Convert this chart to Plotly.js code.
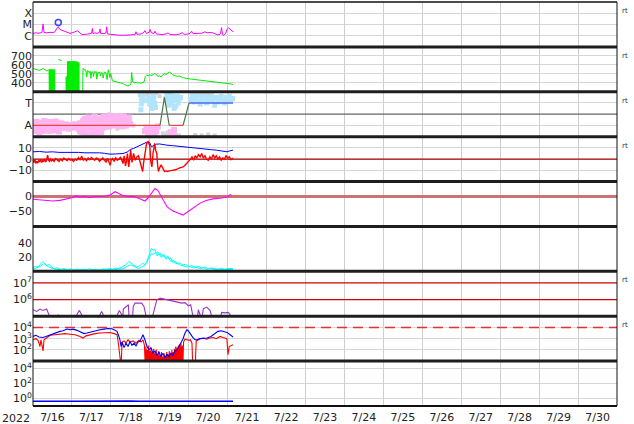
<!DOCTYPE html>
<html><head><meta charset="utf-8">
<script src="https://cdn.plot.ly/plotly-3.0.1.min.js"></script>
<style>html,body{margin:0;padding:0;background:#fff}#chart{width:634px;height:424px}</style>
</head><body><div id="chart"></div>
<script>
// ---- time axis (hours after 2022-07-16 00:00) ----
const xStart = '2022-07-16 00:00:00';
const xEnd = '2022-07-31 00:00:00';
const dayLabelFormat = '%-m/%-d';
const yearLabel = '2022';

// Panel 1: X-ray flux (log10 W/m2)
const xrayT = [0,1.8,3.7,5.5,6.2,6.8,8.6,10.5,12.3,13.6,14.5,15.1,15.6,16,17.3,18.5,19.7,21.6,22.8,24.7,26.2,27.4,29,30.2,32.7,35.1,36.1,36.6,37,38.2,39.5,41,41.3,41.7,43.8,45,45.4,45.9,48.7,52.4,56.1,59.8,62.9,63.5,64.1,66.6,68.4,69,69.9,71.6,72.1,73,74.6,75.2,76.1,79.5,82,83.2,84.5,88.2,90.6,91.9,93.1,95.6,96.8,97.8,98.6,101.7,104.2,106,107.3,109.1,111,113.3,114.7,115.6,116.2,116.8,117.7,118.7,119.6,120.5,121.5,122.7,123.3];
const xrayLog = [-5.8,-5.75,-5.78,-5.72,-4.97,-5.72,-5.75,-5.7,-5.73,-5.65,-5.4,-5.25,-5.2,-5.35,-5.5,-5.55,-5.62,-5.7,-5.8,-5.72,-5.6,-5.57,-5.75,-5.9,-5.88,-5.85,-5.8,-5.36,-5.82,-5.75,-5.8,-5.7,-5.4,-5.8,-5.82,-5.75,-5.21,-5.85,-5.92,-5.95,-5.97,-5.93,-5.9,-5.65,-5.88,-5.85,-5.7,-5.55,-5.8,-5.7,-5.45,-5.75,-5.8,-5.6,-5.85,-5.9,-5.85,-5.75,-5.9,-5.92,-5.85,-5.72,-5.88,-5.85,-5.8,-5.6,-5.82,-5.8,-5.78,-5.65,-5.75,-5.72,-5.75,-5.9,-5.92,-5.85,-5.28,-5.9,-5.98,-5.8,-5.45,-5.3,-5.4,-5.6,-5.65];
const flareT = [15.6];
const flareLog = [-4.82];

// Panel 2: solar wind speed (km/s); 250 = off-scale low, null = gap
const speedT = [0,1.2,2.5,3.7,4.9,6.2,7.4,8.6,9.5,9.9,10.1,10.3,10.5,10.8,11.0,11.3,11.5,11.8,12.0,12.3,12.5,12.8,13.0,13.3,13.5,14,
 15.6,16.6,17.7,18.5,
 20.3,20.5,20.8,21.0,21.3,21.5,21.8,22.0,22.3,22.5,22.8,23.0,23.3,23.5,23.8,24.0,24.3,24.5,24.8,25.0,25.3,25.5,25.8,26.0,26.3,26.5,26.8,27.0,27.3,27.5,27.8,28.0,28.3,28.5,29,
 30.6,30.8,31.4,31.9,32.3,32.8,33.1,33.6,34.2,34.6,35.3,35.7,36.2,37.0,37.3,37.9,38.5,39.0,39.3,40.1,40.6,41.2,41.5,42.3,42.9,43.2,44.0,44.6,44.9,45.7,46.1,46.4,47.0,47.3,47.9,48.5,49.0,50.5,52.0,53.5,54.5,55.5,56.5,57.5,58.5,59.5,60.0,60.4,60.8,61.5,62.5,63.5,64.5,65.5,66.5,67.5,68.5,69.2,70.0,71.0,72.0,73.0,74.0,75.0,76.0,77.0,78.0,79.0,80.0,81.0,82.0,83.0,84.0,85.0,86.0,87.0,88.0,89.0,90.0,91.0,92.0,93.0,94.0,95.0,96.0,98.0,100.0,102.0,104.0,106.0,108.0,110.0,112.0,114.0,116.0,118.0,120.0,122.0,123.3];
const speedV = [559,555,548,540,545,559,545,532,540,548,250,550,250,548,250,550,250,548,250,550,250,545,250,548,250,null,
 660,650,648,null,
 462,250,470,250,640,250,638,250,640,250,642,250,640,250,638,250,640,250,640,250,638,250,640,250,636,250,638,250,635,250,630,250,625,250,null,
 250,560,552,540,548,520,465,535,530,512,528,450,522,518,470,530,514,524,440,520,510,522,476,516,505,452,518,509,514,436,512,545,500,460,505,432,420,415,410,400,395,392,380,372,365,372,380,385,515,410,400,405,398,402,395,400,410,470,484,478,488,480,490,503,495,470,480,465,490,500,492,505,521,510,490,484,475,470,478,465,458,455,450,448,445,440,436,435,432,428,420,415,412,408,400,398,392,388,380,372];

// Panel 3: IMF sector (T = 1, A = -1)
const pinkT = [0,0,1,1,2,2,3,3,4,4,5,5,6,6,7,7,8,8,9,9,10,10,11,11,12,12,13,13,14,14,15,15,16,16,17,17,18,19,20,21,22,23,24,25,26,27,28,29,29,30,30,31,31,32,32,33,33,34,34,35,35,36,36,37,37,38,38,39,39,40,40,41,41,42,42,43,43,44,44,45,45,46,46,47,47,48,48,49,49,50,50,51,51,52,52,53,53,54,54,55,55,56,56,57,57,58,59,60,69,70,71,72,73,74,75,76,77,85,86,87];
const pinkV = [-0.8,-1.3,-1.1,-1.5,-0.7,-1.2,-0.9,-1.4,-1.0,-1.6,-0.75,-1.25,-0.9,-1.5,-1.1,-0.6,-0.8,-1.35,-1.2,-0.7,-0.95,-1.5,-0.7,-1.2,-1.0,-1.45,-0.85,-1.3,-1.15,-0.65,-0.9,-1.4,-1.05,-1.55,-0.8,-1.2,-1.0,-1.2,-0.9,-1.1,-1.3,-0.95,-1.05,-1.2,-0.9,-1.1,-1.3,-0.8,-1.5,-1.0,-1.6,-0.6,-1.3,-0.4,-1.7,-0.9,-1.9,-0.3,-1.2,-0.7,-1.8,-0.5,-1.4,-1.0,-1.95,-0.2,-1.5,-0.8,-1.8,-0.4,-1.1,-1.3,-0.6,-0.9,-1.6,-0.3,-1.2,-0.7,-0.2,-1.0,-0.5,-0.3,-0.8,-0.6,-1.1,-0.2,-0.9,-0.5,-1.0,-0.3,-0.8,-0.7,-0.15,-0.4,-1.0,-0.6,-0.25,-0.3,-0.9,-0.5,-1.1,-0.8,-0.2,-0.4,-1.0,-0.6,-0.3,-0.9,-1.5,-1.2,-1.7,-1.4,-1.6,-1.3,-1.8,-1.5,-1.1,-1.6,-1.8,-1.4];
const grayT = [44,45,46,47,48,50,52,54,56,58,60,62,66,67,68,70,72,74,76,78,80,81,82,83,84,86,88,90,98,100,102,104,106,108,110,100,104,108,112];
const grayV = [-0.2,-0.6,-1.2,0.0,-0.9,-0.4,-1.3,-0.1,-0.7,-1.1,-0.5,-1.0,1.7,1.9,1.6,1.8,1.9,1.7,1.9,1.6,-1.7,-1.9,-1.8,-1.6,-1.9,-1.7,-1.85,-1.9,1.8,1.9,1.7,1.85,1.9,1.75,1.85,-1.85,-1.9,-1.8,-1.9];
const lblueT = [66.5,66.8,67,67.2,70,71,72,72.5,73,73.5,74,74.5,75,75.5,82,82.5,83,83.5,84,84.5,85,85.5,86,86.5,87,87.5,88,88.5,89,89.5,90,91,97,98,99,100,101,102,103,104,105,106,107,108,109,110,111,112,113,114,115,116,117,118,119,120,121,122,123];
const lblueV = [0.4,0.9,1.3,1.7,1.2,1.5,0.9,1.4,0.5,0.7,1.2,1.55,1.0,0.6,1.4,1.8,1.1,0.8,1.5,1.2,1.9,0.9,1.3,1.6,0.5,1.4,0.7,1.2,1.6,1.0,1.3,1.5,1.3,1.6,1.1,1.4,1.7,1.2,0.9,1.5,1.3,1.6,1.0,1.4,1.2,1.7,1.3,0.8,1.5,1.1,1.4,1.6,1.2,1.0,1.5,1.3,1.6,1.2,1.4];
const sectorAwayT = [0,78.3,null,84,92.5];
const sectorAwayV = [-1,-1,null,-1,-1];
const sectorSwitchT = [78.3,81,84,null,92.5,96.2];
const sectorSwitchV = [-1,1.5,-1,null,-1,1];
const sectorTowardT = [96.2,123.3];
const sectorTowardV = [1,1];

// Panel 4: IMF Bt / Bz (nT)
const btT = [0,4,8,12,16,20,24,28,32,36,41,44,47.5,51,55.5,58,60,62,64,66,68,70,71,72,73,74,76,78,80,82.6,86,89,92.5,96,100,103,107,110,113,116,119.6,121,122.7,123.3];
const btV = [6.5,6.8,6.2,6.5,6.0,6.2,5.8,6.0,5.6,5.8,5.6,5.2,4.4,4.6,5.0,6.2,8.6,9.5,11,12.5,14,15,15.4,14.5,11,12,13.3,13.5,12.8,12.4,12,11.5,11,10.2,9.5,8.9,8.6,8.4,8,7.5,6.5,7.2,8,8];
const bzT = [0,0.6,1.2,1.8,2.4,3,3.6,4.2,4.8,5.4,6,6.6,7.2,7.8,8.4,9,9.6,10.2,10.8,11.4,12,13,14,15,16,17,18,19,20,21,22,23,24,25,26,27,28,29,30,31,32,33,34,35,36,37,38,39,40,41,42,43,44,45,46,47,47.6,48.2,49,50,51,52,53,54,55,55.5,56.2,57,57.6,58.2,59,59.6,60.2,61,62,63,64,65,66,67,67.6,68.2,69,70,71,72,72.6,73.3,74,75,75.6,76.3,76.8,77.3,78,79,80,81,82,83,84,86,88,90,92.5,94,96,97,98,99,100,101,102,103,104,105,106,107,108,109,110,111,112,113,114,115,116,117,118,119,120,121,122,123.3];
const bzV = [-1,-3,-0.5,-4,-2,-3.5,-1,-2.5,-0.5,-3,-1.5,-2,0,-2.5,-1,3.5,-1,-2,0.5,-1.5,-0.5,-2,0.5,-1,-2,0,-1.5,1,-0.5,-1.5,0.5,-1,-0.5,-2,0,-1,1.5,-0.5,2.5,-1,0.5,-1.5,1,-0.5,1.5,0,-1,1,0.5,-2,0,1,-1,-2.5,0.5,-4,-5.5,-1,0.5,-2,1,-1,0,2,-1,-4,3,-6,-2,5,-7,1,8,-3,5,-1,2,3,-2,-8,-11,-3,6,14,15.5,12,-2,-7,5,14,8,5,-5,-11,-8,-5,-8,-11,-10.5,-11,-10.5,-10,-9.5,-8,-7,-5,-2,0,2,-1,3,1,4,2,5,1,3,0,-1,2,0,4,1,3,0,2,-1,1,0,3,1,2,-0.5,1];

// Panel 5: Dst (nT)
const dstT = [0,6.2,12.3,16.6,21,24,27,29,32,35,38,41.3,44.4,47.5,50.6,52.4,55.5,58.6,61.7,64.7,67.2,69,70.9,72.7,75.2,77,78.3,80.1,82.6,84.5,86.3,89.4,92.5,95.6,99.3,103,106.7,111,115.3,118.4,120.2,121.5,122.7];
const dstV = [-9,-11,-15,-13,-9,-4,2,-2,0,-3,0,0,1,5,16,12,3,0,1,-5,-12,-15,-5,10,27,20,8,-8,-34,-42,-48,-55,-62,-50,-35,-22,-13,-8,-6,-3,-1,6,3];

// Panel 6: two cyan series
const cyanAT = [0,1.5,3,4.5,6,7,8.5,10,11.5,13,15,17,19,21,23,25,27,29,31,33,35,37,39,41,43,45,47,49,51,53,55,57,59,60.5,62,64,66,67.5,69,70.5,72,73,74,75,76,77,78,79,80,81,82,83,84,85,86.5,88,89.5,91,92.5,94,96,98,100,102,104,106,108,110,112,114,116,118,120,122,123.3];
const cyanAV = [5,7,6,10,14,12,8,10,6,4,5,3,4,2.5,3.5,2,3,2,3,2.5,3.5,2.5,3,2,3.5,3,4,3,4.5,4,6,9,14,12,9,6,8,11.6,9,16,25,33,30,31,26,28,23,26,21,23,19,22,17,19,12,14,10,11.6,9,10,7,8,6,7,5,6,4,5,4,3,4,3,4,3.5,4];
const cyanBT = [0,1.5,3,4.5,6,7.5,9,10.5,12,14,16,18,20,22,24,26,28,30,32,34,36,38,40,42,44,46,48,50,52,54,56,58,60,61.5,63,65,67,68.5,70,71.5,73,74,75.5,76.5,78,79,80.5,82,83.5,85,86.5,88,89.5,91,93,95,97,99,101,103,105,107,109,111,113,115,117,119,121,123.3];
const cyanBV = [3,4,5,7,10,11,7,5,4,3,2.5,2,3,1.5,2,1.5,2.5,1.5,2,1.5,2.5,1.5,2,1.5,2.5,2,3,2,3,3,4,7,9,8,6,4,6,8,12,18,26,24,27,22,25,20,24,17,20,14,16,11,12,9,8,6,6.5,5,5.5,4,5,3,4,3,2.5,3,2.5,3,2.5,3];

// Panel 7: electron flux (log10); 4.8 = off-scale low
const elecT = [0,2.3,4.3,6.2,8.4,9.4,10.5,11,15,15.6,16.2,26.5,27,28.6,30,30.5,41,41.3,42.3,43.3,43.8,51.5,52,53.2,54.7,55.2,55.7,57.8,58.8,59.3,61.3,61.8,62.9,67,68.4,69.5,70,73.2,74.2,76.3,78.3,80.4,84.5,88.6,91.7,93.7,95.7,97.2,98.4,99,101.3,101.9,103,103.5,104,105,107.1,109.1,110.2,110.8,115.3,116.3,118.4,120.4,121.5,122];
const elecLog = [5.39,5.29,5.43,5.35,5.43,5.23,5.03,4.8,4.8,5.09,4.8,4.8,5.09,5.35,5.09,4.8,4.8,5.09,5.29,5.09,4.8,4.8,5.09,5.35,5.09,4.8,5.43,5.59,5.69,4.8,4.8,5.59,5.79,5.79,5.59,5.09,4.8,4.8,5.2,5.99,6.09,6.04,5.95,5.85,5.79,5.82,5.63,5.69,5.09,4.8,4.8,5.39,5.09,4.8,4.8,5.45,5.55,5.35,5.09,4.8,4.8,5.23,5.2,5.23,5.09,4.8];
const elecLines = [1e6, 1e7];

// Panel 8: particle flux (log10); 0.5 = off-scale low
const fluxBlueT = [0,1.8,3.7,6.2,8,10.5,13.6,16.6,18.5,21,22.8,24.7,27.1,29,31.4,33.3,35.8,38.2,41.3,43.8,46.2,48.7,50.6,51.8,52.7,53.6,54.3,54.9,56.1,57.3,58.6,59.8,61,62.3,63.5,64.7,66,67.8,69,70.3,71.6,72.7,74,75.2,76.4,77.7,78.9,80.1,81.4,82.6,83.8,85,86.3,87.5,88.8,90,91.2,92.5,93.7,94.9,96.2,97.4,98.6,99.9,101.1,103,104.8,107.3,109.7,112.2,114,115.9,117.7,119.6,121.5,123.3];
const fluxBlueLog = [3.2,3.3,3.15,3.1,3.2,3.35,3.5,3.65,3.7,3.86,3.8,3.85,3.74,3.6,3.45,3.5,3.6,3.7,3.8,3.85,3.9,3.88,3.75,3.65,3.3,2.9,2.3,2.7,2.2,2.6,2.3,2.75,2.4,2.6,2.35,2.7,2.8,3.35,2.9,2.3,2.0,2.2,1.7,1.9,1.5,1.8,1.4,1.7,1.3,1.6,1.4,1.7,1.5,1.9,2.0,2.3,2.6,3.0,3.5,3.8,3.6,3.3,3.1,2.9,2.9,3.0,3.05,3.06,3.2,3.5,3.65,3.7,3.6,3.56,3.35,3.15];
const fluxRedT = [0,1.8,3.1,4.3,4.9,6.2,6.8,8.6,10.5,13.6,16.6,19.7,22.8,25.9,29,30.8,32.7,35.1,38.2,41.3,44.4,47.5,50,51.8,52.7,53.3,54.3,54.9,56.1,57.3,58.6,59.8,61.7,63.5,65.3,66.6,67.8,68.7,
 69.2,69.6,70,70.4,70.8,71.2,71.6,72,72.4,72.8,73.2,73.6,74,74.4,74.8,75.2,75.6,76,76.4,76.8,77.2,77.6,78,78.4,78.8,79.2,79.6,80,80.4,80.8,81.2,81.6,82,82.4,82.8,83.2,83.6,84,84.4,84.8,85.2,85.6,86,86.4,86.8,87.2,87.6,88,88.4,88.8,89.2,89.6,90,90.4,90.8,91.2,91.6,92,92.4,92.8,93.2,
 93.7,95,96.2,97,98,98.5,100,100.6,101.5,103,105,107,109,111,113,115.3,117,118.4,119.5,120.2,121,123.3];
const fluxRedLog = [2.9,3.0,2.85,2.3,2.9,1.9,2.9,3.1,3.3,3.35,3.4,3.45,3.4,3.35,3.2,3.06,3.25,3.35,3.45,3.5,3.55,3.55,3.45,3.35,2.5,0.5,0.5,2.7,2.8,2.6,2.9,2.7,2.8,2.6,2.85,2.7,2.9,2.4,
 0.5,2.3,0.5,2.0,0.5,2.4,0.5,1.9,0.5,2.2,0.5,1.8,0.5,2.1,0.5,1.7,0.5,2.0,0.5,1.6,0.5,1.9,0.5,1.5,0.5,1.8,0.5,1.4,0.5,1.7,0.5,1.5,0.5,1.8,0.5,1.6,0.5,1.9,0.5,1.7,0.5,2.0,0.5,1.8,0.5,2.1,0.5,2.3,0.5,2.2,0.5,2.4,0.5,2.5,0.5,2.6,0.5,2.4,0.5,2.7,2.9,
 2.95,2.9,2.85,2.9,2.6,0.5,0.5,2.8,2.9,3.0,3.05,2.95,3.06,3.1,3.0,3.2,3.1,3.05,3.0,1.58,2.3,2.46];
const fluxThreshold = 1e4;

// Panel 9: low flux (log10)
const lowT = [0,5,10,15,20,25,30,35,40,45,50,55,60,65,70,75,80,85,90,95,100,105,110,115,120,123.3];
const lowLog = [-0.35,-0.37,-0.38,-0.35,-0.34,-0.36,-0.37,-0.35,-0.35,-0.37,-0.36,-0.34,-0.34,-0.36,-0.37,-0.35,-0.36,-0.37,-0.38,-0.36,-0.35,-0.37,-0.37,-0.35,-0.36,-0.35];

// Panel labels on the right
const rightTagPanels = [1,2,3,4,7,8];
const rightTag = 'rt';

// ---- helpers ----
const base = Date.UTC(2022,6,16);
function T(hs){ return hs.map(h => h===null ? null : new Date(base + h*3600000).toISOString().slice(0,19).replace('T',' ')); }
function P(ls){ return ls.map(v => v===null ? null : Math.pow(10, v)); }

const NP = 9;
function ax(k){ return k===1 ? '' : String(k); }
function line(k, t, y, color, width, extra){
  return Object.assign({type:'scatter', mode:'lines', x:T(t), y:y, xaxis:'x'+ax(k), yaxis:'y'+ax(k),
    line:{color:color, width:width}, hoverinfo:'skip', showlegend:false, connectgaps:false}, extra||{});
}
function hline(k, val, color, width, dash){
  return {type:'scatter', mode:'lines', x:[xStart, xEnd], y:[val, val], xaxis:'x'+ax(k), yaxis:'y'+ax(k),
    line:{color:color, width:width, dash:dash||'solid'}, hoverinfo:'skip', showlegend:false};
}
function pts(k, t, y, color, size){
  return {type:'scatter', mode:'markers', x:T(t), y:y, xaxis:'x'+ax(k), yaxis:'y'+ax(k),
    marker:{color:color, size:size, symbol:'square', line:{width:0}}, hoverinfo:'skip', showlegend:false};
}

const traces = [
  line(1, xrayT, P(xrayLog), '#ff00ff', 1),
  {type:'scatter', mode:'markers', x:T(flareT), y:P(flareLog), xaxis:'x', yaxis:'y',
   marker:{symbol:'circle-open', color:'#3344ff', size:6, line:{width:1.5, color:'#3344ff'}}, hoverinfo:'skip', showlegend:false},

  line(2, speedT, speedV, '#00ee00', 1),

  hline(3, 0, '#666666', 1.3),
  pts(3, grayT, grayV, '#d4d4d4', 4),
  pts(3, pinkT, pinkV, '#ffb4f2', 6),
  pts(3, lblueT, lblueV, '#b0e4ff', 5),
  line(3, sectorAwayT, sectorAwayV, '#ee4444', 1.3),
  line(3, sectorSwitchT, sectorSwitchV, '#4a7a4a', 1.2),
  line(3, sectorTowardT, sectorTowardV, '#5566ee', 1.5),

  hline(4, 0, '#aa0000', 1.2),
  line(4, btT, btV, '#0000ff', 1),
  line(4, bzT, bzV, '#ff0000', 1.4),

  hline(5, 0, '#cc7272', 3),
  line(5, dstT, dstV, '#ff00ff', 1.1),

  line(6, cyanAT, cyanAV, '#00ffff', 1),
  line(6, cyanBT, cyanBV, '#00ffff', 1),

  hline(7, elecLines[0], '#cc0000', 1.2),
  hline(7, elecLines[1], '#cc0000', 1.2),
  line(7, elecT, P(elecLog), '#9933cc', 1.1),

  hline(8, fluxThreshold, '#dd3333', 1.5, '10px,6px'),
  line(8, fluxRedT, P(fluxRedLog), '#ff0000', 1.1),
  line(8, fluxBlueT, P(fluxBlueLog), '#0000ff', 1.1),

  line(9, lowT, P(lowLog), '#0000ff', 1.5)
];

const font = {family:'DejaVu Sans, sans-serif', size:11, color:'#222'};
const yCfg = {
  1:{type:'log', range:[-7,-3], tickvals:[1e-6,1e-5,1e-4], ticktext:['C','M','X'], showgrid:true},
  2:{range:[300,800], tickvals:[400,500,600,700], ticktext:['400','500','600','700'], showgrid:true},
  3:{range:[-2,2], tickvals:[-1,1], ticktext:['A','T'], showgrid:true},
  4:{range:[-20,20], tickvals:[-10,0,10], ticktext:['\u221210','0','10'], showgrid:true},
  5:{range:[-100,50], tickvals:[-50,0], ticktext:['\u221250','0'], showgrid:false},
  6:{range:[0,64], tickvals:[20,40], ticktext:['20','40'], showgrid:false},
  7:{type:'log', range:[5,7.7], tickvals:[1e6,1e7], ticktext:['10<sup>6</sup>','10<sup>7</sup>'], showgrid:false},
  8:{type:'log', range:[1,5], tickvals:[1e2,1e3,1e4], ticktext:['10<sup>2</sup>','10<sup>3</sup>','10<sup>4</sup>'], showgrid:true},
  9:{type:'log', range:[-1,5], tickvals:[1,1e2,1e4], ticktext:['10<sup>0</sup>','10<sup>2</sup>','10<sup>4</sup>'], showgrid:true}
};

const layout = {
  width:634, height:424, margin:{l:33, r:17, t:2, b:18},
  paper_bgcolor:'#fff', plot_bgcolor:'#fff', showlegend:false, font:font,
  shapes:[], annotations:[]
};
for (let k=1;k<=NP;k++){
  const top = 1-(k-1)/NP, bot = 1-k/NP;
  layout['xaxis'+ax(k)] = {
    type:'date', range:[xStart, xEnd], domain:[0,1], anchor:'y'+ax(k),
    tick0:xStart, dtick:86400000, ticklabelmode:'period', tickformat:dayLabelFormat,
    showgrid:true, gridcolor:'#cfcfcf', gridwidth:1, ticks:'', zeroline:false, showline:false,
    showticklabels:k===NP, tickfont:font, ticklabelstandoff:3, fixedrange:true
  };
  if (k>1) layout['xaxis'+ax(k)].matches = 'x';
  const c = yCfg[k];
  layout['yaxis'+ax(k)] = Object.assign({
    domain:[bot, top], anchor:'x'+ax(k), ticks:'', zeroline:false, showline:false,
    gridcolor:'#d6d6d6', gridwidth:1, tickfont:font, tickmode:'array', fixedrange:true
  }, c);
  if (k<NP) layout.shapes.push({type:'line', xref:'paper', yref:'paper', x0:0, x1:1, y0:bot, y1:bot, line:{color:'#1e1e1e', width:3}});
}
layout.shapes.push({type:'line', xref:'paper', yref:'paper', x0:0, x1:0, y0:0, y1:1, line:{color:'#111', width:1}});
layout.shapes.push({type:'line', xref:'paper', yref:'paper', x0:1, x1:1, y0:0, y1:1, line:{color:'#111', width:1}});
layout.shapes.push({type:'line', xref:'paper', yref:'paper', x0:0, x1:1, y0:1, y1:1, line:{color:'#111', width:1.5}});
layout.shapes.push({type:'line', xref:'paper', yref:'paper', x0:0, x1:1, y0:0, y1:0, line:{color:'#111', width:2}});

rightTagPanels.forEach(k => {
  layout.annotations.push({xref:'paper', yref:'paper', x:1, y:1-(k-1)/NP, xanchor:'left', yanchor:'middle',
    xshift:3, yshift:-9, text:rightTag, showarrow:false, font:{family:'DejaVu Sans, sans-serif', size:7, color:'#333'}});
});
layout.annotations.push({xref:'paper', yref:'paper', x:0, y:0, xanchor:'right', yanchor:'top', xshift:-1, yshift:-4,
  text:yearLabel, showarrow:false, font:font});

Plotly.newPlot('chart', traces, layout, {displayModeBar:false, staticPlot:true});
</script>
</body></html>
